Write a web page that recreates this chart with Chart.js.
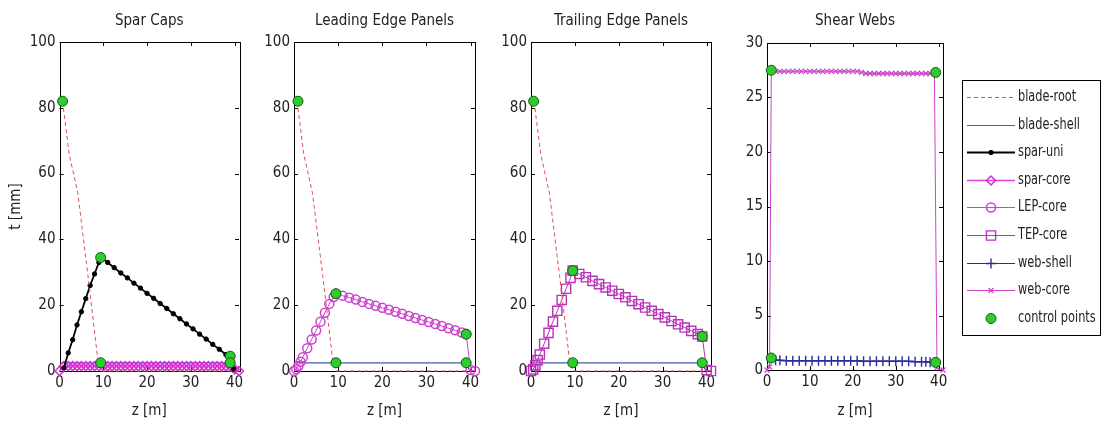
<!DOCTYPE html>
<html>
<head>
<meta charset="utf-8">
<script src="https://cdn.jsdelivr.net/npm/chart.js@4.4.1/dist/chart.umd.min.js"></script>
<style>
    html, body { margin: 0; padding: 0; background: #ffffff; }
    body { position: relative; width: 1104px; height: 426px; overflow: hidden; }
    canvas { position: absolute; top: 0; }
</style>
</head>
<body>
<canvas id="caps" width="250" height="426" style="left: 0px"></canvas>
<canvas id="lep" width="240" height="426" style="left: 250px"></canvas>
<canvas id="tep" width="250" height="426" style="left: 490px"></canvas>
<canvas id="webs" width="364" height="426" style="left: 740px"></canvas>
<script>
// thickness t [mm] along the blade z [m]
const rootZ = [ 0.7, 2.2, 4.2, 6.5, 8.8, 9.5, 41 ];
const rootT = [ 82, 66, 54, 29, 3, 0, 0 ];

const shellZ = [ 0.5, 9.5, 39, 39.8 ];
const shellT = [ 2.5, 2.5, 2.5, 0 ];

const sparUniZ = [ 1, 2, 3, 4, 5, 6, 7, 8, 9, 9.5, 11, 12.5, 14, 15.5, 17, 18.5, 20, 21.5, 23, 24.5, 26, 27.5, 29, 30.5, 32, 33.5, 35, 36.5, 38, 39, 39.8 ];
const sparUniT = [ 1, 5.5, 9.5, 14, 18, 22, 26, 29.5, 33, 34.5, 33, 31.4, 29.8, 28.3, 26.7, 25.2, 23.6, 22.1, 20.5, 19, 17.4, 15.9, 14.3, 12.8, 11.2, 9.7, 8.1, 6.6, 5, 4, 0.5 ];

const sparCoreZ = [ 0, 1, 2, 3, 4, 5, 6, 7, 8, 9, 10, 11, 12, 13, 14, 15, 16, 17, 18, 19, 20, 21, 22, 23, 24, 25, 26, 27, 28, 29, 30, 31, 32, 33, 34, 35, 36, 37, 38, 39, 40, 41 ];
const sparCoreT = [ 0, 1.5, 1.5, 1.5, 1.5, 1.5, 1.5, 1.5, 1.5, 1.5, 1.5, 1.5, 1.5, 1.5, 1.5, 1.5, 1.5, 1.5, 1.5, 1.5, 1.5, 1.5, 1.5, 1.5, 1.5, 1.5, 1.5, 1.5, 1.5, 1.5, 1.5, 1.5, 1.5, 1.5, 1.5, 1.5, 1.5, 1.5, 1.5, 1.5, 0.5, 0 ];

const panelZ = [ 0, 0.5, 1, 1.5, 2, 3, 4, 5, 6, 7, 8, 9, 9.5, 11, 12.5, 14, 15.5, 17, 18.5, 20, 21.5, 23, 24.5, 26, 27.5, 29, 30.5, 32, 33.5, 35, 36.5, 38, 39, 40, 41 ];
const lepT = [ 0, 0.5, 1.5, 2.8, 4.2, 6.9, 9.6, 12.3, 15, 17.7, 20.4, 22.5, 23.5, 22.9, 22.3, 21.7, 21, 20.4, 19.8, 19.2, 18.6, 18, 17.4, 16.7, 16.1, 15.5, 14.9, 14.3, 13.7, 13, 12.4, 11.7, 11.2, 0.3, 0 ];
const tepT = [ 0, 0.5, 1.7, 3.3, 5, 8.3, 11.6, 15, 18.3, 21.6, 25, 28.3, 30.5, 29.5, 28.5, 27.4, 26.4, 25.4, 24.4, 23.4, 22.4, 21.3, 20.3, 19.3, 18.3, 17.3, 16.3, 15.2, 14.2, 13.2, 12.2, 11.2, 10.5, 0.3, 0 ];

const webShellZ = [ 1, 2, 3, 4.5, 6, 7.5, 9, 10.5, 12, 13.5, 15, 16.5, 18, 19.5, 21, 22.5, 24, 25.5, 27, 28.5, 30, 31.5, 33, 34.5, 36, 37, 38, 39 ];
const webShellT = [ 1.1, 0.9, 0.9, 0.85, 0.85, 0.85, 0.85, 0.85, 0.85, 0.85, 0.85, 0.85, 0.85, 0.85, 0.85, 0.8, 0.8, 0.8, 0.8, 0.8, 0.8, 0.8, 0.8, 0.75, 0.75, 0.75, 0.7, 0.7 ];

const webCoreZ = [ 0, 0.6, 1, 2, 3, 4, 5, 6, 7, 8, 9, 10, 11, 12, 13, 14, 15, 16, 17, 18, 19, 20, 21, 22, 23, 24, 25, 26, 27, 28, 29, 30, 31, 32, 33, 34, 35, 36, 37, 38, 39, 39.6, 41 ];
const webCoreT = [ 0, 0.3, 27.5, 27.4, 27.4, 27.4, 27.4, 27.4, 27.4, 27.4, 27.4, 27.4, 27.4, 27.4, 27.4, 27.4, 27.4, 27.4, 27.4, 27.4, 27.4, 27.4, 27.4, 27.3, 27.2, 27.2, 27.2, 27.2, 27.2, 27.2, 27.2, 27.2, 27.2, 27.2, 27.2, 27.2, 27.2, 27.2, 27.2, 27.2, 27.2, 0.2, 0 ];

const capsCtrlZ = [ 0.7, 9.4, 9.4, 39, 39 ];
const capsCtrlT = [ 82, 34.5, 2.5, 4.5, 2.5 ];
const lepCtrlZ = [ 0.9, 9.5, 9.5, 39, 39 ];
const lepCtrlT = [ 82, 23.5, 2.5, 11.2, 2.5 ];
const tepCtrlZ = [ 0.6, 9.5, 9.5, 39, 39 ];
const tepCtrlT = [ 82, 30.5, 2.5, 10.5, 2.5 ];
const webCtrlZ = [ 1, 39.3, 1, 39.3 ];
const webCtrlT = [ 27.5, 27.3, 1.1, 0.7 ];

const Fonts = "'Liberation Sans Narrow', 'DejaVu Sans Condensed', 'Roboto', sans-serif";

const Styles = {
    root: { label: 'blade-root', color: '#e05050', width: 1, dash: [ 4, 3 ], radius: 0 },
    shell: { label: 'blade-shell', color: '#4a5aa8', width: 1.2, radius: 0 },
    sparUni: { label: 'spar-uni', color: '#000000', width: 1.8, marker: 'circle', radius: 2.2, fill: '#000000' },
    sparCore: { label: 'spar-core', color: '#dd44dd', width: 1.5, marker: 'rectRot', radius: 4.5, markerColor: '#d030d0', markerWidth: 1.5 },
    lep: { label: 'LEP-core', color: '#cc44cc', width: 1, marker: 'circle', radius: 4.5, markerWidth: 1.5 },
    tep: { label: 'TEP-core', color: '#b833b8', width: 1, marker: 'rect', radius: 6.5, markerWidth: 1.4 },
    webShell: { label: 'web-shell', color: '#2b2b9a', width: 1, marker: 'cross', radius: 5, markerWidth: 1.4 },
    webCore: { label: 'web-core', color: '#cc44cc', width: 1, marker: 'crossRot', radius: 3.5, markerWidth: 1.2 },
    control: { label: 'control points', color: '#2ecc2e', width: 0, line: false, marker: 'circle', radius: 5, fill: '#2ecc2e', markerColor: '#0e5e0e' }
};

const Utils = {
    points( zs, ts ) {
        return zs.map( ( z, i ) => ( { x: z, y: ts[ i ] } ) );
    },
    dataset( style, zs, ts ) {
        return {
            label: style.label,
            data: this.points( zs, ts ),
            showLine: style.line !== false,
            borderColor: style.color,
            borderWidth: style.width,
            borderDash: style.dash || [],
            pointStyle: style.marker || 'circle',
            pointRadius: style.radius,
            pointBorderColor: style.markerColor || style.color,
            pointBackgroundColor: style.fill || 'rgba( 0, 0, 0, 0 )',
            pointBorderWidth: style.markerWidth || 1,
            clip: false,
            tension: 0
        };
    }
};

// MATLAB style box with inward ticks
const AxisBox = {
    id: 'axisBox',
    beforeDatasetsDraw( chart ) {
        const
            ctx = chart.ctx,
            area = chart.chartArea,
            x = chart.scales.x,
            y = chart.scales.y;
        ctx.save();
        ctx.strokeStyle = '#000000';
        ctx.lineWidth = 1;
        ctx.strokeRect( Math.round( area.left ) + 0.5, Math.round( area.top ) + 0.5, Math.round( area.right - area.left ), Math.round( area.bottom - area.top ) );
        ctx.beginPath();
        x.ticks.forEach( t => {
            const px = Math.round( x.getPixelForValue( t.value ) ) + 0.5;
            ctx.moveTo( px, area.bottom ); ctx.lineTo( px, area.bottom - 4 );
            ctx.moveTo( px, area.top ); ctx.lineTo( px, area.top + 4 );
        } );
        y.ticks.forEach( t => {
            const py = Math.round( y.getPixelForValue( t.value ) ) + 0.5;
            ctx.moveTo( area.left, py ); ctx.lineTo( area.left + 4, py );
            ctx.moveTo( area.right, py ); ctx.lineTo( area.right - 4, py );
        } );
        ctx.stroke();
        ctx.restore();
    }
};

const Legend = {
    id: 'boxLegend',
    afterDraw( chart ) {
        const
            ctx = chart.ctx,
            order = [ 'root', 'shell', 'sparUni', 'sparCore', 'lep', 'tep', 'webShell', 'webCore', 'control' ],
            left = 222, top = 80, width = 138, height = 255;
        ctx.save();
        ctx.fillStyle = '#ffffff';
        ctx.fillRect( left, top, width, height );
        ctx.strokeStyle = '#000000';
        ctx.lineWidth = 1;
        ctx.strokeRect( left + 0.5, top + 0.5, width, height );
        order.forEach( ( key, i ) => {
            const
                s = Styles[ key ],
                cy = Math.round( 97 + 27.6 * i ) + 0.5;
            if ( s.line !== false ) {
                ctx.strokeStyle = s.color;
                ctx.lineWidth = s.width;
                ctx.setLineDash( s.dash || [] );
                ctx.beginPath();
                ctx.moveTo( 227, cy );
                ctx.lineTo( 275, cy );
                ctx.stroke();
                ctx.setLineDash( [] );
            }
            if ( s.marker ) {
                ctx.strokeStyle = s.markerColor || s.color;
                ctx.fillStyle = s.fill || 'rgba( 0, 0, 0, 0 )';
                ctx.lineWidth = s.markerWidth || 1;
                Chart.helpers.drawPoint( ctx, { pointStyle: s.marker, radius: s.radius, borderWidth: s.markerWidth || 1, rotation: 0 }, 251, cy );
            }
            // the reference text is narrow, squeeze it a little
            ctx.save();
            ctx.translate( 278, cy );
            ctx.scale( 0.84, 1 );
            ctx.fillStyle = '#222222';
            ctx.font = '15px ' + Fonts;
            ctx.textAlign = 'left';
            ctx.textBaseline = 'middle';
            ctx.fillText( s.label, 0, 0 );
            ctx.restore();
        } );
        ctx.restore();
    }
};

Chart.defaults.font.family = Fonts;
Chart.defaults.font.size = 15;
Chart.defaults.color = '#222222';

function showPanel( id, title, datasets, layout ) {
    return new Chart( document.getElementById( id ), {
        type: 'scatter',
        data: { datasets: datasets },
        options: {
            responsive: false,
            animation: false,
            events: [],
            layout: { padding: { left: 0, right: layout.right, top: 0, bottom: 0 } },
            plugins: {
                legend: { display: false },
                tooltip: { enabled: false },
                title: {
                    display: true,
                    text: title,
                    fullSize: false,
                    color: '#222222',
                    font: { size: 15, weight: 'normal' },
                    padding: { top: 12, bottom: layout.titleGap }
                }
            },
            scales: {
                x: {
                    type: 'linear',
                    min: 0,
                    max: 41,
                    afterFit( scale ) { scale.height = layout.xHeight; },
                    grid: { display: false, drawTicks: false },
                    border: { display: false },
                    ticks: { stepSize: 10, includeBounds: false, padding: 3, maxRotation: 0, autoSkip: false },
                    title: { display: true, text: 'z [m]', padding: { top: 0, bottom: 6 } }
                },
                y: {
                    type: 'linear',
                    min: 0,
                    max: layout.yMax,
                    afterFit( scale ) { scale.width = layout.yWidth; },
                    grid: { display: false, drawTicks: false },
                    border: { display: false },
                    ticks: { stepSize: layout.yStep, includeBounds: false, padding: 4, autoSkip: false },
                    title: { display: !!layout.yTitle, text: layout.yTitle || '', padding: { top: 7, bottom: 0 } }
                }
            }
        },
        plugins: layout.legend ? [ AxisBox, Legend ] : [ AxisBox ]
    } );
}

showPanel( 'caps', 'Spar Caps', [
    Utils.dataset( Styles.control, capsCtrlZ, capsCtrlT ),
    Utils.dataset( Styles.root, rootZ, rootT ),
    Utils.dataset( Styles.sparUni, sparUniZ, sparUniT ),
    Utils.dataset( Styles.sparCore, sparCoreZ, sparCoreT ),
    Utils.dataset( Styles.shell, shellZ, shellT )
], { right: 11, yWidth: 59.5, xHeight: 55, titleGap: 12, yMax: 100, yStep: 20, yTitle: 't [mm]' } );

showPanel( 'lep', 'Leading Edge Panels', [
    Utils.dataset( Styles.control, lepCtrlZ, lepCtrlT ),
    Utils.dataset( Styles.root, rootZ, rootT ),
    Utils.dataset( Styles.lep, panelZ, lepT ),
    Utils.dataset( Styles.shell, shellZ, shellT )
], { right: 15, yWidth: 44, xHeight: 55, titleGap: 12, yMax: 100, yStep: 20 } );

showPanel( 'tep', 'Trailing Edge Panels', [
    Utils.dataset( Styles.control, tepCtrlZ, tepCtrlT ),
    Utils.dataset( Styles.root, rootZ, rootT ),
    Utils.dataset( Styles.tep, panelZ, tepT ),
    Utils.dataset( Styles.shell, shellZ, shellT )
], { right: 29, yWidth: 41, xHeight: 55, titleGap: 12, yMax: 100, yStep: 20 } );

showPanel( 'webs', 'Shear Webs', [
    Utils.dataset( Styles.control, webCtrlZ, webCtrlT ),
    Utils.dataset( Styles.webShell, webShellZ, webShellT ),
    Utils.dataset( Styles.webCore, webCoreZ, webCoreT )
], { right: 161, yWidth: 27, xHeight: 56, titleGap: 13, yMax: 30, yStep: 5, legend: true } );
</script>
</body>
</html>
